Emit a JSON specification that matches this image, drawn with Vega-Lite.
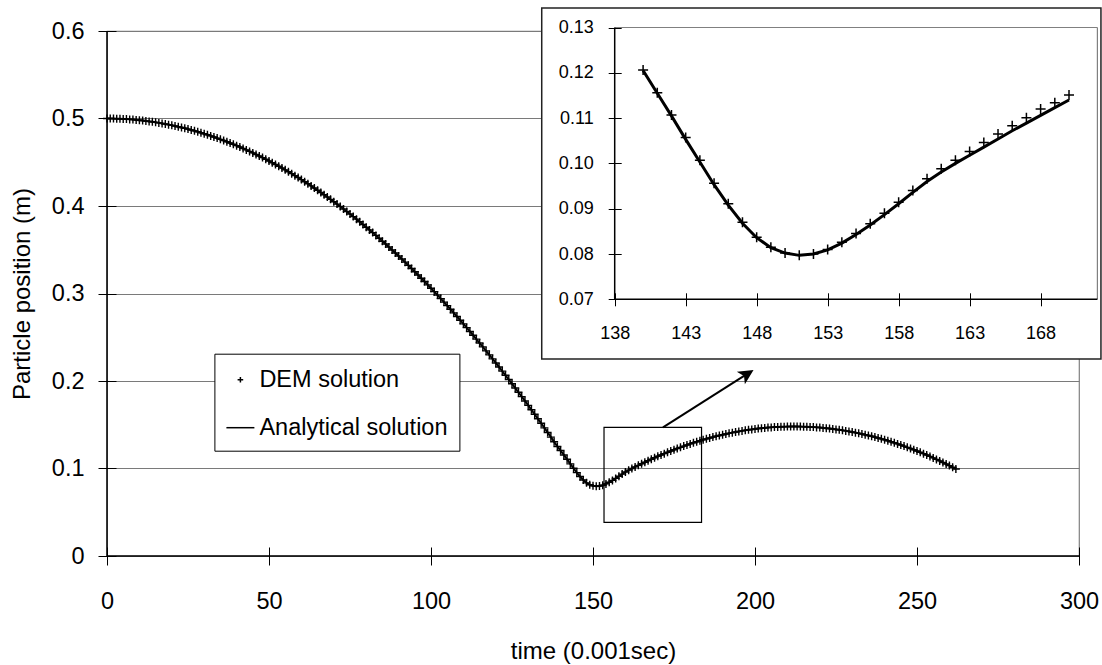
{
  "$schema": "https://vega.github.io/schema/vega-lite/v6.json",
  "background": "white",
  "padding": {"left": 10, "top": 7, "right": 0, "bottom": 0},
  "width": 972,
  "height": 525,
  "config": {
    "font": "Liberation Sans",
    "view": {"stroke": "#808080", "strokeWidth": 1.2},
    "axis": {"labelColor": "black", "titleColor": "black", "tickColor": "black", "titleFontWeight": "normal", "labelFont": "Liberation Sans", "titleFont": "Liberation Sans"},
    "legend": {"labelFont": "Liberation Sans", "labelColor": "black"}
  },
  "datasets": {
    "main": [
      {"t":0,"y":0.5},{"t":1,"y":0.5},{"t":2,"y":0.4999},{"t":3,"y":0.4998},{"t":4,"y":0.4997},{"t":5,"y":0.4995},{"t":6,"y":0.4993},{"t":7,"y":0.499},{"t":8,"y":0.4988},{"t":9,"y":0.4984},
      {"t":10,"y":0.4981},{"t":11,"y":0.4977},{"t":12,"y":0.4972},{"t":13,"y":0.4967},{"t":14,"y":0.4962},{"t":15,"y":0.4956},{"t":16,"y":0.495},{"t":17,"y":0.4944},{"t":18,"y":0.4937},{"t":19,"y":0.493},
      {"t":20,"y":0.4922},{"t":21,"y":0.4914},{"t":22,"y":0.4906},{"t":23,"y":0.4897},{"t":24,"y":0.4888},{"t":25,"y":0.4879},{"t":26,"y":0.4869},{"t":27,"y":0.4859},{"t":28,"y":0.4848},{"t":29,"y":0.4837},
      {"t":30,"y":0.4825},{"t":31,"y":0.4814},{"t":32,"y":0.4801},{"t":33,"y":0.4789},{"t":34,"y":0.4776},{"t":35,"y":0.4762},{"t":36,"y":0.4749},{"t":37,"y":0.4734},{"t":38,"y":0.472},{"t":39,"y":0.4705},
      {"t":40,"y":0.469},{"t":41,"y":0.4674},{"t":42,"y":0.4658},{"t":43,"y":0.4641},{"t":44,"y":0.4624},{"t":45,"y":0.4607},{"t":46,"y":0.4589},{"t":47,"y":0.4571},{"t":48,"y":0.4553},{"t":49,"y":0.4534},
      {"t":50,"y":0.4515},{"t":51,"y":0.4495},{"t":52,"y":0.4475},{"t":53,"y":0.4455},{"t":54,"y":0.4434},{"t":55,"y":0.4413},{"t":56,"y":0.4392},{"t":57,"y":0.437},{"t":58,"y":0.4347},{"t":59,"y":0.4325},
      {"t":60,"y":0.4302},{"t":61,"y":0.4278},{"t":62,"y":0.4254},{"t":63,"y":0.423},{"t":64,"y":0.4205},{"t":65,"y":0.418},{"t":66,"y":0.4155},{"t":67,"y":0.4129},{"t":68,"y":0.4103},{"t":69,"y":0.4076},
      {"t":70,"y":0.4049},{"t":71,"y":0.4022},{"t":72,"y":0.3994},{"t":73,"y":0.3966},{"t":74,"y":0.3938},{"t":75,"y":0.3909},{"t":76,"y":0.3879},{"t":77,"y":0.385},{"t":78,"y":0.382},{"t":79,"y":0.3789},
      {"t":80,"y":0.3758},{"t":81,"y":0.3727},{"t":82,"y":0.3696},{"t":83,"y":0.3664},{"t":84,"y":0.3631},{"t":85,"y":0.3598},{"t":86,"y":0.3565},{"t":87,"y":0.3532},{"t":88,"y":0.3498},{"t":89,"y":0.3463},
      {"t":90,"y":0.3429},{"t":91,"y":0.3394},{"t":92,"y":0.3358},{"t":93,"y":0.3322},{"t":94,"y":0.3286},{"t":95,"y":0.3249},{"t":96,"y":0.3212},{"t":97,"y":0.3175},{"t":98,"y":0.3137},{"t":99,"y":0.3099},
      {"t":100,"y":0.306},{"t":101,"y":0.3021},{"t":102,"y":0.2982},{"t":103,"y":0.2942},{"t":104,"y":0.2902},{"t":105,"y":0.2861},{"t":106,"y":0.282},{"t":107,"y":0.2779},{"t":108,"y":0.2737},{"t":109,"y":0.2695},
      {"t":110,"y":0.2653},{"t":111,"y":0.261},{"t":112,"y":0.2566},{"t":113,"y":0.2523},{"t":114,"y":0.2479},{"t":115,"y":0.2434},{"t":116,"y":0.239},{"t":117,"y":0.2344},{"t":118,"y":0.2299},{"t":119,"y":0.2253},
      {"t":120,"y":0.2206},{"t":121,"y":0.216},{"t":122,"y":0.2113},{"t":123,"y":0.2065},{"t":124,"y":0.2017},{"t":125,"y":0.1969},{"t":126,"y":0.192},{"t":127,"y":0.1871},{"t":128,"y":0.1822},{"t":129,"y":0.1772},
      {"t":130,"y":0.1721},{"t":131,"y":0.1671},{"t":132,"y":0.162},{"t":133,"y":0.1568},{"t":134,"y":0.1517},{"t":135,"y":0.1464},{"t":136,"y":0.1412},{"t":137,"y":0.1359},{"t":138,"y":0.1305},{"t":139,"y":0.1252},
      {"t":140,"y":0.1205},{"t":141,"y":0.1155},{"t":142,"y":0.1105},{"t":143,"y":0.1053},{"t":144,"y":0.1003},{"t":145,"y":0.0953},{"t":146,"y":0.0908},{"t":147,"y":0.0868},{"t":148,"y":0.0836},{"t":149,"y":0.0814},
      {"t":150,"y":0.0802},{"t":151,"y":0.0797},{"t":152,"y":0.08},{"t":153,"y":0.0809},{"t":154,"y":0.0824},{"t":155,"y":0.0843},{"t":156,"y":0.0864},{"t":157,"y":0.0887},{"t":158,"y":0.0911},{"t":159,"y":0.0936},
      {"t":160,"y":0.096},{"t":161,"y":0.0981},{"t":162,"y":0.1},{"t":163,"y":0.1018},{"t":164,"y":0.1036},{"t":165,"y":0.1054},{"t":166,"y":0.1072},{"t":167,"y":0.1089},{"t":168,"y":0.1106},{"t":169,"y":0.1123},
      {"t":170,"y":0.114},{"t":171,"y":0.1154},{"t":172,"y":0.117},{"t":173,"y":0.1185},{"t":174,"y":0.12},{"t":175,"y":0.1214},{"t":176,"y":0.1229},{"t":177,"y":0.1242},{"t":178,"y":0.1256},{"t":179,"y":0.1269},
      {"t":180,"y":0.1281},{"t":181,"y":0.1294},{"t":182,"y":0.1305},{"t":183,"y":0.1317},{"t":184,"y":0.1328},{"t":185,"y":0.1339},{"t":186,"y":0.1349},{"t":187,"y":0.1359},{"t":188,"y":0.1368},{"t":189,"y":0.1377},
      {"t":190,"y":0.1386},{"t":191,"y":0.1394},{"t":192,"y":0.1402},{"t":193,"y":0.141},{"t":194,"y":0.1417},{"t":195,"y":0.1424},{"t":196,"y":0.143},{"t":197,"y":0.1436},{"t":198,"y":0.1442},{"t":199,"y":0.1447},
      {"t":200,"y":0.1452},{"t":201,"y":0.1457},{"t":202,"y":0.1461},{"t":203,"y":0.1464},{"t":204,"y":0.1468},{"t":205,"y":0.147},{"t":206,"y":0.1473},{"t":207,"y":0.1475},{"t":208,"y":0.1477},{"t":209,"y":0.1478},
      {"t":210,"y":0.1479},{"t":211,"y":0.148},{"t":212,"y":0.148},{"t":213,"y":0.148},{"t":214,"y":0.1479},{"t":215,"y":0.1478},{"t":216,"y":0.1477},{"t":217,"y":0.1475},{"t":218,"y":0.1473},{"t":219,"y":0.147},
      {"t":220,"y":0.1468},{"t":221,"y":0.1464},{"t":222,"y":0.1461},{"t":223,"y":0.1457},{"t":224,"y":0.1452},{"t":225,"y":0.1447},{"t":226,"y":0.1442},{"t":227,"y":0.1436},{"t":228,"y":0.143},{"t":229,"y":0.1424},
      {"t":230,"y":0.1417},{"t":231,"y":0.141},{"t":232,"y":0.1402},{"t":233,"y":0.1394},{"t":234,"y":0.1386},{"t":235,"y":0.1377},{"t":236,"y":0.1368},{"t":237,"y":0.1359},{"t":238,"y":0.1349},{"t":239,"y":0.1339},
      {"t":240,"y":0.1328},{"t":241,"y":0.1317},{"t":242,"y":0.1305},{"t":243,"y":0.1294},{"t":244,"y":0.1281},{"t":245,"y":0.1269},{"t":246,"y":0.1256},{"t":247,"y":0.1242},{"t":248,"y":0.1229},{"t":249,"y":0.1214},
      {"t":250,"y":0.12},{"t":251,"y":0.1185},{"t":252,"y":0.117},{"t":253,"y":0.1154},{"t":254,"y":0.1138},{"t":255,"y":0.1121},{"t":256,"y":0.1104},{"t":257,"y":0.1087},{"t":258,"y":0.1069},{"t":259,"y":0.1051},
      {"t":260,"y":0.1033},{"t":261,"y":0.1014},{"t":262,"y":0.0995}
    ],
    "inset": [
      {"t":140,"dem":0.1206,"ana":0.1205},{"t":141,"dem":0.1156,"ana":0.1155},{"t":142,"dem":0.1107,"ana":0.1105},{"t":143,"dem":0.1057,"ana":0.1053},{"t":144,"dem":0.1007,"ana":0.1003},
      {"t":145,"dem":0.0956,"ana":0.0953},{"t":146,"dem":0.0911,"ana":0.0908},{"t":147,"dem":0.087,"ana":0.0868},{"t":148,"dem":0.0837,"ana":0.0836},{"t":149,"dem":0.0815,"ana":0.0814},
      {"t":150,"dem":0.0802,"ana":0.0802},{"t":151,"dem":0.0797,"ana":0.0797},{"t":152,"dem":0.08,"ana":0.08},{"t":153,"dem":0.081,"ana":0.0809},{"t":154,"dem":0.0826,"ana":0.0824},
      {"t":155,"dem":0.0845,"ana":0.0843},{"t":156,"dem":0.0867,"ana":0.0864},{"t":157,"dem":0.089,"ana":0.0887},{"t":158,"dem":0.0914,"ana":0.0911},{"t":159,"dem":0.094,"ana":0.0936},
      {"t":160,"dem":0.0966,"ana":0.096},{"t":161,"dem":0.0988,"ana":0.0981},{"t":162,"dem":0.1007,"ana":0.1},{"t":163,"dem":0.1026,"ana":0.1018},{"t":164,"dem":0.1046,"ana":0.1036},
      {"t":165,"dem":0.1065,"ana":0.1054},{"t":166,"dem":0.1083,"ana":0.1072},{"t":167,"dem":0.1101,"ana":0.1089},{"t":168,"dem":0.112,"ana":0.1106},{"t":169,"dem":0.1134,"ana":0.1123},
      {"t":170,"dem":0.1151,"ana":0.114}
    ]
  },
  "layer": [
    {
      "data": {"name": "main"},
      "encoding": {
        "x": {"field": "t", "type": "quantitative",
          "scale": {"domain": [0, 300], "nice": false, "zero": false},
          "axis": {"title": "time (0.001sec)", "orient": "bottom", "values": [0, 50, 100, 150, 200, 250, 300], "grid": false, "domain": false,
            "offset": -9, "tickSize": 18, "labelPadding": 24, "labelFontSize": 23.5, "titleFontSize": 24, "titlePadding": 27, "labelFlush": false}},
        "y": {"field": "y", "type": "quantitative",
          "scale": {"domain": [0, 0.6], "nice": false},
          "axis": {"title": "Particle position (m)", "orient": "left", "values": [0, 0.1, 0.2, 0.3, 0.4, 0.5, 0.6], "format": ".1~f", "grid": true, "gridColor": "#7a7a7a", "gridWidth": 1.2, "domain": false,
            "offset": -9, "tickSize": 18, "labelPadding": 14, "labelFontSize": 23.5, "titleFontSize": 24, "titlePadding": 17, "labelFlush": false}}
      },
      "layer": [
        {"transform": [{"filter": "datum.t === 0"}], "mark": {"type": "rule", "color": "black", "strokeWidth": 1.5}, "encoding": {"x": {"datum": 0, "type": "quantitative"}, "y": null}},
        {"transform": [{"filter": "datum.t === 0"}], "mark": {"type": "rule", "color": "black", "strokeWidth": 1.5}, "encoding": {"y": {"datum": 0, "type": "quantitative"}, "x": null}},
        {"transform": [{"filter": "datum.t === 0"}], "mark": {"type": "rect", "fill": "transparent", "stroke": "black", "strokeWidth": 1.2},
          "encoding": {"x": {"datum": 153.4, "type": "quantitative"}, "x2": {"datum": 183.5}, "y": {"datum": 0.0384, "type": "quantitative"}, "y2": {"datum": 0.147}}},
        {"mark": {"type": "line", "color": "black", "strokeWidth": 2}},
        {"mark": {"type": "point", "filled": false, "color": "black", "strokeWidth": 1.4, "size": 1600, "opacity": 1},
          "encoding": {"shape": {"datum": "DEM solution", "type": "nominal",
            "scale": {"domain": ["DEM solution", "Analytical solution"], "range": ["M-0.2,0H0.2M0,-0.2V0.2", "M-1,0H1"]},
            "legend": {"title": null, "orient": "none", "legendX": 107.4, "legendY": 322.7, "strokeColor": "black", "fillColor": "white", "padding": 11,
              "labelFontSize": 23.5, "labelLimit": 400, "symbolSize": 784, "symbolStrokeWidth": 1.5, "symbolStrokeColor": "black", "symbolFillColor": "transparent", "symbolOpacity": 1,
              "labelOffset": 4, "rowPadding": 21}}}},
        {"transform": [{"filter": "datum.t === 0"}], "mark": {"type": "rule", "color": "black", "strokeWidth": 2},
          "encoding": {"x": {"datum": 171.6, "type": "quantitative"}, "y": {"datum": 0.147, "type": "quantitative"}, "x2": {"datum": 197.1}, "y2": {"datum": 0.2069}}},
        {"transform": [{"filter": "datum.t === 0"}], "mark": {"type": "point", "shape": "M0,-1L0.8,0.6L0,0.2L-0.8,0.6Z", "filled": true, "color": "black", "opacity": 1, "size": 353, "angle": 57.6},
          "encoding": {"x": {"datum": 197.1, "type": "quantitative"}, "y": {"datum": 0.2069, "type": "quantitative"}}}
      ]
    },
    {
      "data": {"name": "inset"},
      "encoding": {
        "x": {"field": "t", "type": "quantitative",
          "scale": {"domain": [138, 172], "nice": false, "zero": false, "range": [507.7, 990.4]},
          "axis": {"title": null, "orient": "bottom", "values": [138, 143, 148, 153, 158, 163, 168], "grid": false, "domain": false, "zindex": 2,
            "offset": -263.2, "tickSize": 13, "labelPadding": 19, "labelFontSize": 18, "labelFlush": false}},
        "y": {"field": "dem", "type": "quantitative",
          "scale": {"domain": [0.07, 0.13], "nice": false, "zero": false, "range": [268.3, -3.5]},
          "axis": {"title": null, "orient": "left", "values": [0.07, 0.08, 0.09, 0.1, 0.11, 0.12, 0.13], "format": ".2f", "grid": false, "domain": false, "zindex": 2,
            "offset": -514.2, "tickSize": 13, "labelPadding": 15, "labelFontSize": 18, "labelFlush": false}}
      },
      "layer": [
        {"transform": [{"filter": "datum.t === 140"}], "mark": {"type": "rect", "fill": "white", "stroke": "#222222", "strokeWidth": 1.5, "clip": false},
          "encoding": {"x": {"datum": 132.86, "type": "quantitative"}, "x2": {"datum": 172.25}, "y": {"datum": 0.0568, "type": "quantitative"}, "y2": {"datum": 0.1343}}},
        {"transform": [{"filter": "datum.t === 140"}], "mark": {"type": "rule", "color": "#808080", "strokeWidth": 1.2},
          "encoding": {"x": {"datum": 138, "type": "quantitative"}, "x2": {"datum": 172}, "y": {"datum": 0.13, "type": "quantitative"}}},
        {"transform": [{"filter": "datum.t === 140"}], "mark": {"type": "rule", "color": "#808080", "strokeWidth": 1.2},
          "encoding": {"x": {"datum": 172, "type": "quantitative"}, "y": {"datum": 0.07, "type": "quantitative"}, "y2": {"datum": 0.13}}},
        {"transform": [{"filter": "datum.t === 140"}], "mark": {"type": "rule", "color": "black", "strokeWidth": 1.5},
          "encoding": {"x": {"datum": 138, "type": "quantitative"}, "y": {"datum": 0.07, "type": "quantitative"}, "y2": {"datum": 0.13}}},
        {"transform": [{"filter": "datum.t === 140"}], "mark": {"type": "rule", "color": "black", "strokeWidth": 1.5},
          "encoding": {"x": {"datum": 138, "type": "quantitative"}, "x2": {"datum": 172}, "y": {"datum": 0.07, "type": "quantitative"}}},
        {"mark": {"type": "line", "color": "black", "strokeWidth": 3}, "encoding": {"y": {"field": "ana", "type": "quantitative"}}},
        {"mark": {"type": "point", "shape": "M-1,0H1M0,-1V1", "filled": false, "color": "black", "opacity": 1, "strokeWidth": 1.5, "size": 100}}
      ]
    }
  ],
  "resolve": {"scale": {"x": "independent", "y": "independent"}}
}
